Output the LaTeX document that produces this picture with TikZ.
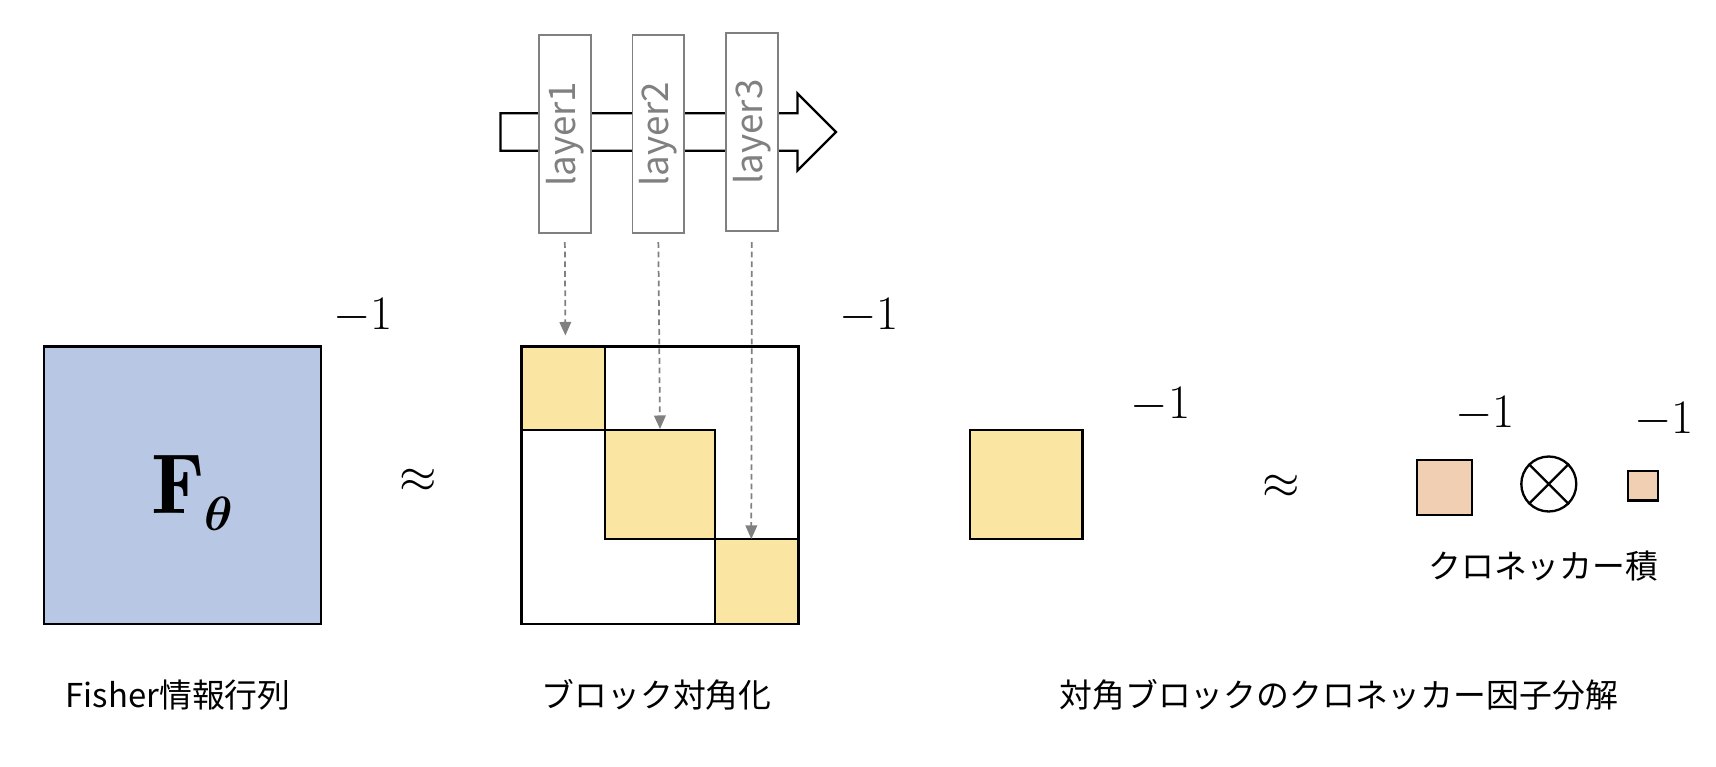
\documentclass[tikz,border=0pt]{standalone}
\usepackage{fontspec}
\usepackage{amsmath,bm}
\newfontfamily\jp{Noto Sans CJK JP}
\usetikzlibrary{arrows.meta}
\definecolor{fblue}{HTML}{B8C7E3}
\definecolor{byel}{HTML}{FAE6A2}
\definecolor{kpink}{HTML}{F0CFB2}
\definecolor{lgray}{HTML}{808080}
\begin{document}
\begin{tikzpicture}[x=0.02cm,y=-0.02cm,
  mat/.style={draw=black,line width=1.2pt},
  lbl/.style={font=\jp\fontsize{17}{20}\selectfont},
  inv/.style={font=\fontsize{40}{44}\selectfont},
  invs/.style={font=\fontsize{30}{34}\selectfont},
  layer/.style={draw=lgray,line width=1pt,fill=white,minimum width=0.94cm,minimum height=3.6cm,inner sep=0pt},
  guide/.style={lgray,densely dashed,line width=0.9pt,-{Triangle[length=7pt,width=6pt]}}]
\useasboundingbox (0,0) rectangle (1560,697);
% Fisher
\node[mat,fill=fblue,minimum size=5.04cm,inner sep=0pt] (F) at (166,441) {};
\node[font=\fontsize{44}{48}\selectfont] (Fl) at (175,448) {$\mathbf{F}_{\bm{\theta}}$};
\node[inv] (i1) at (330,287) {$-1$};
\node[font=\fontsize{50}{54}\selectfont] (ap1) at (380,437) {$\approx$};
% block diag
\node[mat,fill=white,minimum size=5.04cm,inner sep=0pt] (B) at (600,441) {};
\draw[mat,fill=byel] (474,315) rectangle (550,391);
\draw[mat,fill=byel] (550,391) rectangle (650,490);
\draw[mat,fill=byel] (650,490) rectangle (726,567);
\draw[mat] (474,391) -- (550,391);
\draw[mat] (650,391) -- (650,490) -- (726,490);
\node[inv] (i2) at (790,287) {$-1$};
\coordinate (t1) at (514,305);
\coordinate (t2) at (600,390);
\coordinate (t3) at (683,490);
% block arrow
\draw[line width=1.2pt,fill=white] (455,103) -- (725,103) -- (725,85) -- (760,120) -- (725,155) -- (725,137) -- (455,137) -- cycle;
\node[layer] (L1) at (513.5,122) {};
\node[layer] (L2) at (598.5,122) {};
\node[layer] (L3) at (683.5,120) {};
\node[rotate=90,text=lgray,font=\fontsize{19}{22}\selectfont\jp] at (L1) {layer1};
\node[rotate=90,text=lgray,font=\fontsize{19}{22}\selectfont\jp] at (L2) {layer2};
\node[rotate=90,text=lgray,font=\fontsize{19}{22}\selectfont\jp] at (L3) {layer3};
\draw[guide] (L1.south |- 0,220) -- (t1);
\draw[guide] (L2.south |- 0,220) -- (t2);
\draw[guide] (L3.south |- 0,220) -- (t3);
% single block
\node[mat,fill=byel,minimum width=2.04cm,minimum height=1.98cm,inner sep=0pt] (S) at (933,440.5) {};
\node[inv] (i3) at (1055,368) {$-1$};
\node[font=\fontsize{50}{54}\selectfont] (ap2) at (1165,443) {$\approx$};
% kron
\node[mat,fill=kpink,minimum size=1cm,inner sep=0pt] (K1) at (1313,443) {};
\node[invs] (i4) at (1350,376) {$-1$};
\node[draw,line width=1.2pt,circle,minimum size=1cm,inner sep=0pt] (ot) at (1408,440) {};
\draw[line width=1.2pt] (ot.north west) -- (ot.south east) (ot.north east) -- (ot.south west);
\node[mat,fill=kpink,minimum size=0.54cm,inner sep=0pt] (K2) at (1493.5,441.5) {};
\node[invs] (i5) at (1513,382) {$-1$};
\node[lbl] (kl) at (1403,515) {クロネッカー積};
% labels
\node[lbl] (l1) at (162,632) {Fisher情報行列};
\node[lbl] (l2) at (597,632) {ブロック対角化};
\node[lbl] (l3) at (1217,632) {対角ブロックのクロネッカー因子分解};
\end{tikzpicture}
\end{document}
